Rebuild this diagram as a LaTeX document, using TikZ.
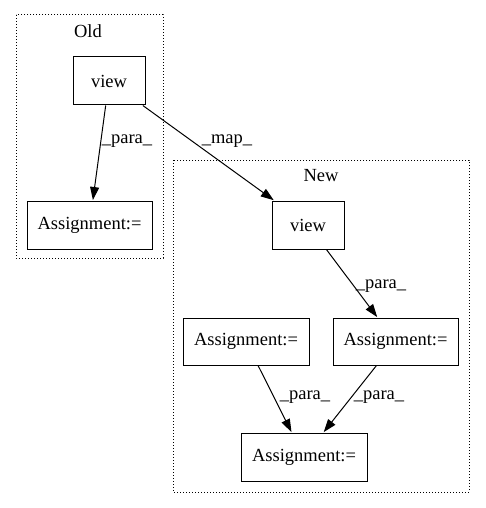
\documentclass[tikz,border=0pt]{standalone}
\usepackage{fontspec}
\setmainfont{Liberation Serif}
\usetikzlibrary{arrows.meta}
\begin{document}
\begin{tikzpicture}[x=1pt,y=-1pt,
  box/.style={draw,line width=1pt,inner sep=0pt,font=\fontsize{18.5}{20}\selectfont},
  cluster/.style={draw,line width=1pt,dotted},
  lbl/.style={inner sep=0pt,font=\fontsize{18.5}{20}\selectfont},
  edge/.style={line width=1pt,-{Triangle[length=13pt,width=9pt]},shorten >=0.5pt}]
\useasboundingbox (0,0) rectangle (485,508);
\draw[cluster] (16,15) rectangle (163,258);
\draw[cluster] (173,160) rectangle (469,492);
\node[lbl] (oldlbl) at (88,31) {Old};
\node[lbl] (newlbl) at (321,176) {New};
\node[box,minimum width=72pt,minimum height=48pt] (vo) at (109,81) {view};
\node[box,minimum width=125pt,minimum height=48pt] (ao) at (89.5,225) {Assignment:=};
\node[box,minimum width=72pt,minimum height=48pt] (vn) at (308,225) {view};
\node[box,minimum width=126pt,minimum height=47pt] (al) at (246,341.5) {Assignment:=};
\node[box,minimum width=125pt,minimum height=47pt] (ar) at (395.5,341.5) {Assignment:=};
\node[box,minimum width=126pt,minimum height=48pt] (ab) at (304,457) {Assignment:=};
\draw[edge] (vo) -- (ao);
\draw[edge] (vo) -- (vn);
\draw[edge] (vn) -- (ar);
\draw[edge] (al) -- (ab);
\draw[edge] (ar) -- (ab);
\node[lbl] (l1) at (127,141) {\_para\_};
\node[lbl] (l2) at (227,141) {\_map\_};
\node[lbl] (l3) at (381,286) {\_para\_};
\node[lbl] (l4) at (305,397) {\_para\_};
\node[lbl] (l5) at (379,397) {\_para\_};
\end{tikzpicture}
\end{document}
